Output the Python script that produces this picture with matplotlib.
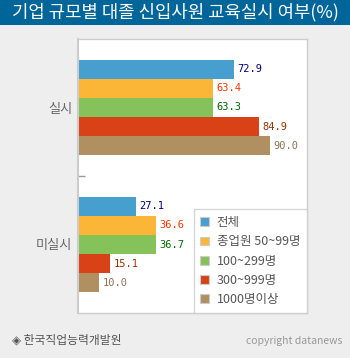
import matplotlib
matplotlib.use('Agg')
import matplotlib.pyplot as plt
import numpy as np

plt.rcParams['font.family'] = ['Noto Sans CJK KR', 'DejaVu Sans']

# data
groups = ['실시', '미실시']
series = ['전체', '종업원 50~99명', '100~299명', '300~999명', '1000명이상']
values = [
    [72.9, 27.1],
    [63.4, 36.6],
    [63.3, 36.7],
    [84.9, 15.1],
    [90.0, 10.0],
]
bar_colors = ['#479fd0', '#fbb637', '#85c35a', '#d94117', '#b09060']
label_colors = ['#000080', '#ff3300', '#006600', '#993300', '#8b7355']

W, H = 350, 358
fig = plt.figure(figsize=(W / 100, H / 100), dpi=100)
fig.patch.set_facecolor('#eeeeee')

# title bar
fig.patches.append(plt.Rectangle((0, 1 - 25 / H), 1, 25 / H, transform=fig.transFigure,
                                 facecolor='#006699', edgecolor='none', zorder=0))
fig.text(0.5, 1 - 12.5 / H, '기업 규모별 대졸 신입사원 교육실시 여부(%)', color='white',
         fontsize=12.8, ha='center', va='center')

ax = fig.add_axes([78 / W, 1 - 313 / H, (307 - 78) / W, (313 - 39) / H])
ax.set_facecolor('white')

n = len(series)
h = 0.14
y = np.arange(len(groups))
for i, (vals, c, lc) in enumerate(zip(values, bar_colors, label_colors)):
    pos = y - (n - 1) / 2 * h + i * h
    bars = ax.barh(pos, vals, height=h, color=c, label=series[i])
    for b, v in zip(bars, vals):
        ax.text(b.get_width() + 1.6, b.get_y() + b.get_height() / 2, '%.1f' % v,
                color=lc, fontsize=7.5, family='DejaVu Sans Mono', va='center', ha='left')

ax.set_xlim(0, 107.3)
ax.set_ylim(1.5, -0.5)
ax.set_xticks([])
ax.set_yticks(y)
ax.set_yticklabels(groups, color='#666666', fontsize=9.5)
ax.tick_params(axis='y', length=0, pad=4)
ax.set_yticks([0.5], minor=True)
ax.tick_params(axis='y', which='minor', direction='in', length=5, color='#999999', width=1)

for s in ax.spines.values():
    s.set_color('#cccccc')
    s.set_linewidth(1)
ax.spines['left'].set_linewidth(1.5)

leg = ax.legend(loc='lower right', bbox_to_anchor=(1, 0), borderaxespad=0,
                frameon=True, fancybox=False, fontsize=9, handlelength=0.7,
                handleheight=0.7, labelspacing=0.5, handletextpad=0.6,
                borderpad=0.55, labelcolor='#555555')
leg.get_frame().set_edgecolor('#cccccc')
leg.get_frame().set_linewidth(1)
for p in leg.get_patches():
    p.set_edgecolor('#cccccc')
    p.set_linewidth(0.8)

fig.text(12 / W, 1 - 340 / H, '◈ 한국직업능력개발원', color='#555555', fontsize=8.5,
         ha='left', va='center')
fig.text(342 / W, 1 - 341 / H, 'copyright datanews', color='#999999', fontsize=7.5,
         ha='right', va='center')

fig.savefig('out.png', dpi=100, facecolor=fig.get_facecolor())
